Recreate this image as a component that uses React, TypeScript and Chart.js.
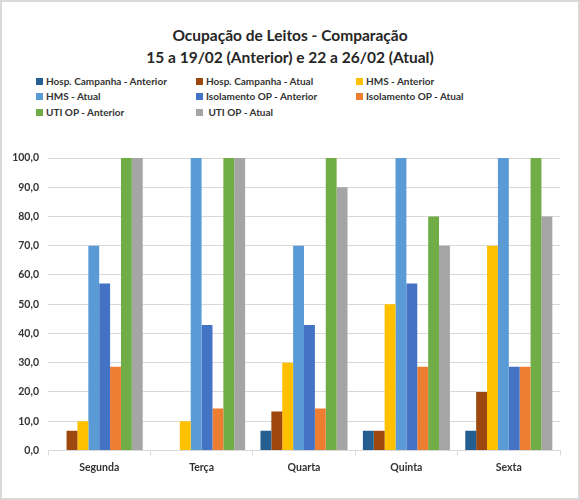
import React, { useEffect, useRef } from "react";
import { Chart, registerables } from "chart.js";

Chart.register(...registerables);

const categories = ["Segunda", "Terça", "Quarta", "Quinta", "Sexta"];
const seriesNames = [
  "Hosp. Campanha - Anterior",
  "Hosp. Campanha - Atual",
  "HMS - Anterior",
  "HMS - Atual",
  "Isolamento OP - Anterior",
  "Isolamento OP - Atual",
  "UTI OP - Anterior",
  " UTI OP - Atual",
];
const hospCampanhaAnterior = [0, 0, 6.7, 6.7, 6.7];
const hospCampanhaAtual = [6.7, 0, 13.3, 6.7, 20.0];
const hmsAnterior = [10.0, 10.0, 30.0, 50.0, 70.0];
const hmsAtual = [70.0, 100.0, 70.0, 100.0, 100.0];
const isolamentoAnterior = [57.1, 42.9, 42.9, 57.1, 28.6];
const isolamentoAtual = [28.6, 14.3, 14.3, 28.6, 28.6];
const utiAnterior = [100.0, 100.0, 100.0, 80.0, 100.0];
const utiAtual = [100.0, 100.0, 90.0, 70.0, 80.0];
const colors = ["#255E91", "#9E480E", "#FFC000", "#5B9BD5", "#4472C4", "#ED7D31", "#70AD47", "#A5A5A5"];
const titleLines = ["Ocupação de Leitos - Comparação", "15 a 19/02 (Anterior) e 22 a 26/02 (Atual)"];

const FONT = "Lato, 'Liberation Sans', sans-serif";

export default function App() {
  const ref = useRef<HTMLCanvasElement>(null);
  useEffect(() => {
    document.body.style.margin = "0";
    const values = [
      hospCampanhaAnterior,
      hospCampanhaAtual,
      hmsAnterior,
      hmsAtual,
      isolamentoAnterior,
      isolamentoAtual,
      utiAnterior,
      utiAtual,
    ];
    const chart = new Chart(ref.current!, {
      type: "bar",
      data: {
        labels: categories,
        datasets: values.map((v, i) => ({
          label: seriesNames[i],
          data: v,
          backgroundColor: colors[i],
          borderWidth: 0,
          categoryPercentage: 0.85,
          barPercentage: 1,
        })),
      },
      options: {
        animation: false,
        responsive: false,
        maintainAspectRatio: false,
        layout: { padding: { top: 20, left: 0, right: 18, bottom: 0 } },
        plugins: { legend: { display: false }, title: { display: false }, tooltip: { enabled: false } },
        scales: {
          x: {
            grid: { drawOnChartArea: false, drawTicks: true, tickLength: 5, offset: true, color: "#d9d9d9" },
            border: { color: "#d9d9d9" },
            ticks: { color: "#333333", font: { family: FONT, size: 10.5, weight: "bold" }, padding: 6 },
          },
          y: {
            min: 0,
            max: 100,
            afterFit: (scale: any) => {
              scale.width = 46;
            },
            ticks: {
              stepSize: 10,
              color: "#333333",
              font: { family: FONT, size: 10.5, weight: "bold" },
              padding: 9,
              callback: (v: any) => Number(v).toFixed(1).replace(".", ","),
            },
            grid: { color: "#d9d9d9", drawTicks: false },
            border: { display: false },
          },
        },
      },
    });
    return () => chart.destroy();
  }, []);

  const legendCols = [36, 196, 356];
  const legendRows = [81, 96, 112];

  return (
    <div
      style={{
        position: "relative",
        width: 580,
        height: 500,
        boxSizing: "border-box",
        border: "2px solid #d9d9d9",
        background: "#fff",
        fontFamily: FONT,
        overflow: "hidden",
      }}
    >
      {titleLines.map((t, i) => (
        <div
          key={i}
          style={{
            position: "absolute",
            left: 0,
            width: 576,
            top: 22 + i * 22,
            textAlign: "center",
            fontSize: 15.5,
            fontWeight: "bold",
            color: "#262626",
            lineHeight: "22px",
            whiteSpace: "pre",
          }}
        >
          {t}
        </div>
      ))}
      {seriesNames.map((n, i) => (
        <div
          key={n}
          style={{
            position: "absolute",
            left: legendCols[i % 3] - 2,
            top: legendRows[Math.floor(i / 3)] - 2 - 8,
            height: 16,
            display: "flex",
            alignItems: "center",
            fontSize: 10,
            fontWeight: "bold",
            color: "#333333",
            whiteSpace: "pre",
          }}
        >
          <span style={{ display: "inline-block", width: 7, height: 7, background: colors[i], marginRight: 3 }} />
          {n}
        </div>
      ))}
      <canvas
        ref={ref}
        width={576}
        height={342}
        style={{ position: "absolute", left: 0, top: 136, width: 576, height: 342 }}
      />
    </div>
  );
}
